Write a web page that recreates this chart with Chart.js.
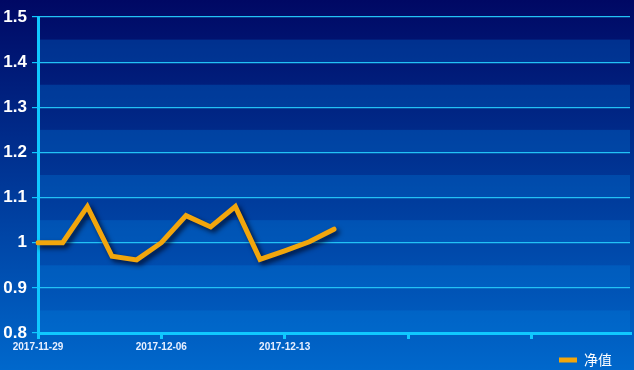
<!DOCTYPE html>
<html>
<head>
<meta charset="utf-8">
<script src="https://cdn.jsdelivr.net/npm/chart.js@4"></script>
<style>
  html, body { margin: 0; padding: 0; background: #0040a0; }
  #wrap { width: 634px; height: 370px; }
</style>
</head>
<body>
<div id="wrap"><canvas id="navChart" width="634" height="370"></canvas></div>
<script>
// trading days shown so far, then empty slots up to the end of the axis
const dates = ['2017-11-29', '2017-11-30', '2017-12-01', '2017-12-04', '2017-12-05',
  '2017-12-06', '2017-12-07', '2017-12-08', '2017-12-11', '2017-12-12',
  '2017-12-13', '2017-12-14', '2017-12-15'];
const emptySlots = 12;
const navValues = [1.0, 1.0, 1.08, 0.97, 0.962, 1.0, 1.06, 1.035, 1.08, 0.963, 0.982, 1.002, 1.03];
const seriesName = '净值';
const yMin = 0.8, yMax = 1.5, yStep = 0.05;

const labels = dates.concat(Array(emptySlots).fill(''));
const isMajor = v => Math.round(v * 100) % 10 === 0;

// background gradient + alternating bands
const backdrop = {
  id: 'backdrop',
  afterLayout(chart) {
    // pull the legend a little in from the right edge
    const lg = chart.legend;
    if (lg) { lg.left -= 18; lg.right -= 18; }
  },
  beforeDraw(chart) {
    const { ctx, chartArea: a, scales: { y } } = chart;
    ctx.save();
    const g = ctx.createLinearGradient(0, 0, 0, chart.height);
    g.addColorStop(0, '#000864');
    g.addColorStop(1, '#0068cc');
    ctx.fillStyle = g;
    ctx.fillRect(0, 0, chart.width, chart.height);
    ctx.fillStyle = 'rgba(0,130,225,0.28)';
    for (let v = yMin; v < yMax - 0.01; v += 0.1) {
      const top = y.getPixelForValue(v + yStep);
      const bot = y.getPixelForValue(v);
      ctx.fillRect(a.left, top, a.right - a.left, bot - top);
    }
    ctx.restore();
  }
};

// drop shadow under the line
const lineShadow = {
  id: 'lineShadow',
  beforeDatasetDraw(chart) {
    const ctx = chart.ctx;
    ctx.save();
    ctx.shadowColor = 'rgba(0,0,20,0.75)';
    ctx.shadowBlur = 5;
    ctx.shadowOffsetX = 3;
    ctx.shadowOffsetY = 3;
  },
  afterDatasetDraw(chart) {
    chart.ctx.restore();
  }
};

new Chart(document.getElementById('navChart').getContext('2d'), {
  type: 'line',
  data: {
    labels: labels,
    datasets: [{
      label: seriesName,
      data: navValues,
      borderColor: '#f2a60c',
      backgroundColor: '#f2a60c',
      borderWidth: 5,
      borderCapStyle: 'round',
      borderJoinStyle: 'miter',
      pointRadius: 0,
      tension: 0,
      fill: false
    }]
  },
  options: {
    responsive: false,
    animation: false,
    layout: { padding: { top: 17, right: 4, bottom: -7, left: 0 } },
    plugins: {
      tooltip: { enabled: false },
      legend: {
        position: 'bottom',
        align: 'end',
        labels: {
          color: '#ffffff',
          font: { family: 'Noto Sans CJK SC', size: 14 },
          usePointStyle: true,
          pointStyle: 'line',
          pointStyleWidth: 18,
          padding: 0
        }
      }
    },
    scales: {
      x: {
        type: 'category',
        offset: false,
        afterFit: s => { s.height = 20; },
        border: { color: '#10c8ff', width: 3 },
        grid: {
          drawOnChartArea: false,
          drawTicks: true,
          tickLength: 6,
          lineWidth: 3,
          tickColor: c => (c.index % 5 === 0 ? '#10c8ff' : 'rgba(0,0,0,0)')
        },
        ticks: {
          autoSkip: false,
          maxRotation: 0,
          padding: 2,
          color: '#e8f0ff',
          font: { family: 'Arial', size: 10, weight: 'bold' },
          callback: function (val, i) { return i % 5 === 0 ? this.getLabelForValue(val) : ''; }
        }
      },
      y: {
        min: yMin,
        max: yMax,
        afterFit: s => { s.width = 38; },
        border: { color: '#10c8ff', width: 3 },
        grid: {
          drawTicks: true,
          tickLength: 6,
          lineWidth: c => (isMajor(c.tick.value) ? 1.2 : 1.6),
          color: c => (isMajor(c.tick.value) ? '#22c2f6' : '#1a98e0'),
          tickColor: c => (isMajor(c.tick.value) ? '#10c8ff' : 'rgba(0,0,0,0)')
        },
        ticks: {
          stepSize: yStep,
          padding: 5,
          color: '#ffffff',
          font: { family: 'Arial', size: 17, weight: 'bold' },
          callback: v => (isMajor(v) ? String(+v.toFixed(1)) : '')
        }
      }
    }
  },
  plugins: [backdrop, lineShadow]
});
</script>
</body>
</html>
